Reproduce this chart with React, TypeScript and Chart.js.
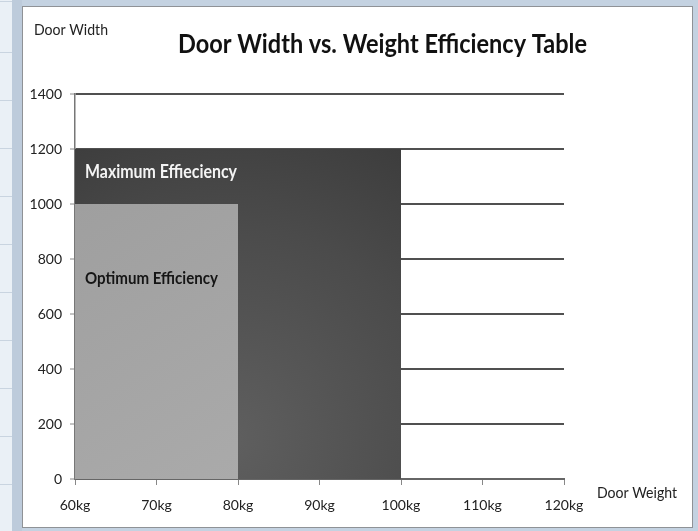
import React, { useEffect, useRef } from "react";
import { Chart, registerables } from "chart.js";

Chart.register(...registerables);

// ---- data ----
const weightTicks = [60, 70, 80, 90, 100, 110, 120];
const weightTickLabels = ["60kg", "70kg", "80kg", "90kg", "100kg", "110kg", "120kg"];
const widthTicks = [0, 200, 400, 600, 800, 1000, 1200, 1400];
const widthTickLabels = ["0", "200", "400", "600", "800", "1000", "1200", "1400"];

const optimumWeights = [60, 80];
const optimumWidths = [1000, 1000];
const maximumWeights = [60, 100];
const maximumWidths = [1200, 1200];

const chartTitle = "Door Width vs. Weight Efficiency Table";
const yAxisTitle = "Door Width";
const xAxisTitle = "Door Weight";
const optimumLabel = "Optimum Efficiency";
const maximumLabel = "Maximum Effieciency";

// canvas offset in the page
const OX = 23;
const OY = 7;

function drawFitted(
  ctx: CanvasRenderingContext2D,
  text: string,
  x: number,
  y: number,
  font: string,
  color: string,
  targetWidth: number
) {
  ctx.save();
  ctx.font = font;
  ctx.fillStyle = color;
  ctx.textAlign = "left";
  ctx.textBaseline = "alphabetic";
  const w = ctx.measureText(text).width;
  const s = targetWidth / w;
  ctx.translate(x, y);
  ctx.scale(s, 1);
  ctx.fillText(text, 0, 0);
  ctx.restore();
}

const textPlugin = {
  id: "textPlugin",
  afterDraw(chart: any) {
    const ctx = chart.ctx as CanvasRenderingContext2D;
    drawFitted(ctx, chartTitle, 178 - OX, 53 - OY, "bold 26px Lato", "#111", 409);
    drawFitted(ctx, yAxisTitle, 34 - OX, 35 - OY, "15px Lato", "#222", 74);
    drawFitted(ctx, xAxisTitle, 597 - OX, 498 - OY, "15px Lato", "#222", 80);
    drawFitted(ctx, maximumLabel, 85 - OX, 178 - OY, "bold 18px Lato", "#f4f4f4", 152);
    drawFitted(ctx, optimumLabel, 85 - OX, 284 - OY, "bold 17px Lato", "#151515", 133);
  },
};

function toPoints(xs: number[], ys: number[]) {
  return xs.map((x, i) => ({ x, y: ys[i] }));
}

export default function App() {
  const ref = useRef<HTMLCanvasElement | null>(null);

  useEffect(() => {
    if (!ref.current) return;
    Chart.defaults.font.family = "Lato";

    const darkFill = (c: any) => {
      const chart = c.chart;
      const area = chart.chartArea;
      if (!area) return "#444";
      const g = chart.ctx.createRadialGradient(230 - OX, 440 - OY, 10, 230 - OX, 440 - OY, 380);
      g.addColorStop(0, "#5e5e5e");
      g.addColorStop(0.55, "#4b4b4b");
      g.addColorStop(1, "#383838");
      return g;
    };
    const lightFill = (c: any) => {
      const chart = c.chart;
      const area = chart.chartArea;
      if (!area) return "#a5a5a5";
      const g = chart.ctx.createLinearGradient(75 - OX, 205 - OY, 240 - OX, 479 - OY);
      g.addColorStop(0, "#9f9f9f");
      g.addColorStop(1, "#aaaaaa");
      return g;
    };

    const chart = new Chart(ref.current, {
      type: "line",
      data: {
        datasets: [
          {
            label: optimumLabel,
            data: toPoints(optimumWeights, optimumWidths),
            fill: "origin",
            backgroundColor: lightFill,
            borderWidth: 0,
            borderColor: "rgba(0,0,0,0)",
            pointRadius: 0,
            tension: 0,
          },
          {
            label: maximumLabel,
            data: toPoints(maximumWeights, maximumWidths),
            fill: "origin",
            backgroundColor: darkFill,
            borderWidth: 0,
            borderColor: "rgba(0,0,0,0)",
            pointRadius: 0,
            tension: 0,
          },
        ],
      },
      options: {
        responsive: false,
        animation: false,
        devicePixelRatio: 1,
        layout: { padding: { left: 2, right: 128, top: 87, bottom: 8 } },
        plugins: {
          legend: { display: false },
          title: { display: false },
          tooltip: { enabled: false },
        },
        scales: {
          x: {
            type: "linear",
            min: weightTicks[0],
            max: weightTicks[weightTicks.length - 1],
            afterBuildTicks: (s: any) => {
              s.ticks = weightTicks.map((v) => ({ value: v }));
            },
            afterFit: (s: any) => {
              s.height = 40;
            },
            ticks: {
              font: { size: 14 },
              color: "#222",
              padding: 12,
              maxRotation: 0,
              autoSkip: false,
              callback: (v: any) => weightTickLabels[weightTicks.indexOf(Number(v))] ?? "",
            },
            grid: {
              drawOnChartArea: false,
              drawTicks: true,
              tickLength: 6,
              tickColor: "#888",
              tickWidth: 1,
            },
            border: { display: true, color: "#666", width: 2 },
          },
          y: {
            type: "linear",
            min: widthTicks[0],
            max: widthTicks[widthTicks.length - 1],
            afterBuildTicks: (s: any) => {
              s.ticks = widthTicks.map((v) => ({ value: v }));
            },
            afterFit: (s: any) => {
              s.width = 50;
            },
            ticks: {
              font: { size: 14 },
              color: "#222",
              padding: 8,
              autoSkip: false,
              callback: (v: any) => widthTickLabels[widthTicks.indexOf(Number(v))] ?? "",
            },
            grid: {
              color: "#505050",
              lineWidth: 2,
              drawTicks: true,
              tickLength: 5,
              tickColor: "#888",
              tickWidth: 1,
            },
            border: { display: true, color: "#777", width: 1.5 },
          },
        },
      },
      plugins: [textPlugin],
    } as any);

    return () => chart.destroy();
  }, []);

  return (
    <div
      style={{
        position: "fixed",
        left: 0,
        top: 0,
        width: 698,
        height: 531,
        background: "#c4d2e1",
        overflow: "hidden",
      }}
    >
      <div
        style={{
          position: "absolute",
          left: 0,
          top: 0,
          width: 12,
          height: 531,
          backgroundColor: "#eaf0f6",
          backgroundImage:
            "repeating-linear-gradient(to bottom, transparent 0px, transparent 47px, #c9d4e0 47px, #c9d4e0 48px)",
          backgroundPosition: "0 5px",
        }}
      />
      <div
        style={{
          position: "absolute",
          left: 12,
          top: 0,
          width: 10,
          height: 531,
          background: "#bdcbdb",
        }}
      />
      <div
        style={{
          position: "absolute",
          left: 22,
          top: 6,
          width: 669,
          height: 520,
          background: "#ffffff",
          border: "1px solid #8f9296",
        }}
      >
        <canvas
          ref={ref}
          width={669}
          height={520}
          style={{ display: "block", width: 669, height: 520 }}
        />
      </div>
    </div>
  );
}
